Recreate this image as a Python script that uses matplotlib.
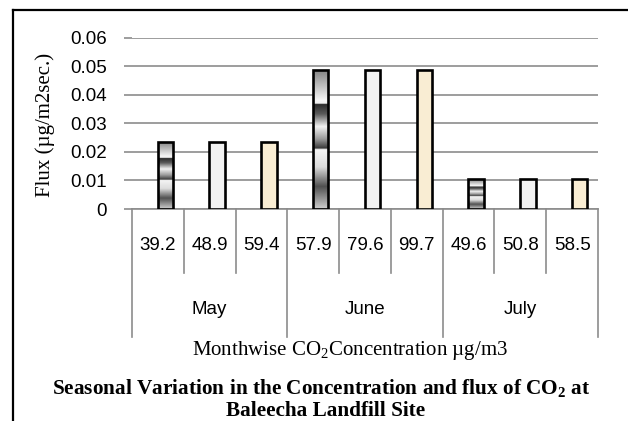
import numpy as np
import matplotlib
matplotlib.use("Agg")
import matplotlib.pyplot as plt
from matplotlib.lines import Line2D
from matplotlib.colors import LinearSegmentedColormap
import matplotlib.transforms as mtrans

plt.rcParams['mathtext.fontset'] = 'custom'
plt.rcParams['mathtext.rm'] = 'Liberation Serif'
plt.rcParams['mathtext.bf'] = 'Liberation Serif:bold'

# data
months = ["May", "June", "July"]
concentrations = ["39.2", "48.9", "59.4", "57.9", "79.6", "99.7", "49.6", "50.8", "58.5"]
flux = [0.0236, 0.0236, 0.0236, 0.0488, 0.0488, 0.0488, 0.0104, 0.0104, 0.0104]

W, H = 628, 421
fig = plt.figure(figsize=(W / 100, H / 100), dpi=100)

def px(x, y):
    return x / W, 1 - y / H

ax = fig.add_axes([132 / W, 1 - 209 / H, 466 / W, 171.3 / H])

x = np.arange(len(flux))
offset, width = 0.145, 0.3
bars = ax.bar(x + offset, flux, width=width, color='#f2f2f2', edgecolor='black',
              linewidth=1.9, zorder=3)

# chrome-like gradient for first bar of each month, plain for the others
chrome = LinearSegmentedColormap.from_list("chrome", [
    (0.0, '#808080'), (0.22, '#f5f5f5'), (0.245, '#f0f0f0'), (0.25, '#2a2a2a'),
    (0.32, '#5a5a5a'), (0.41, '#f2f2f2'), (0.5, '#9a9a9a'), (0.565, '#3a3a3a'),
    (0.575, '#f5f5f5'), (0.7, '#dcdcdc'), (0.84, '#505050'), (1.0, '#cfcfcf')])
grad = np.linspace(0, 1, 256).reshape(-1, 1)
for i, b in enumerate(bars):
    if i % 3 == 0:
        b.set_facecolor('none')
        im = ax.imshow(grad, cmap=chrome, aspect='auto', zorder=2.5,
                       extent=(b.get_x(), b.get_x() + b.get_width(), 0, b.get_height()),
                       origin='upper')
        im.set_clip_path(b)
    elif i % 3 == 2:
        b.set_facecolor('#f9edd3')

ax.set_xlim(-0.5, len(flux) - 0.5)
ax.set_ylim(0, 0.06)
ax.set_yticks(np.arange(0, 0.061, 0.01))
ax.set_yticklabels(["0"] + ["%.2f" % v for v in np.arange(0.01, 0.061, 0.01)])
ax.yaxis.grid(True, color='#8c8c8c', linewidth=1.2, zorder=0)
ax.set_axisbelow(True)
for s in ['top', 'right', 'left']:
    ax.spines[s].set_visible(False)
ax.spines['bottom'].set_color('#8c8c8c')
ax.spines['bottom'].set_linewidth(1.2)
ax.tick_params(axis='y', length=6, width=1.2, color='#8c8c8c', pad=12,
               labelsize=13.5)
for t in ax.get_yticklabels():
    t.set_fontfamily('Liberation Sans')
ax.set_xticks([])

# multi-level category axis drawn by hand
tr = mtrans.blended_transform_factory(ax.transData, fig.transFigure)
for k in range(len(flux) + 1):
    xs = k - 0.5
    yend = 337 if k % 3 == 0 else 273
    fig.add_artist(Line2D([xs, xs], [1 - 209 / H, 1 - yend / H], transform=tr,
                          color='#8c8c8c', linewidth=1.2))
for i, lab in enumerate(concentrations):
    fig.text(i, 1 - 245 / H, lab, transform=tr, ha='center', va='center',
             fontsize=13.5, family='Liberation Sans')
for j, m in enumerate(months):
    fig.text(3 * j + 1, 1 - 310 / H, m, transform=tr, ha='center', va='center',
             fontsize=13.5, family='Liberation Sans')

fig.text(*px(45, 125), "Flux (µg/m2sec.)", rotation=90, ha='center', va='center',
         fontsize=15, family='Liberation Serif')
fig.text(*px(350, 350), "Monthwise CO$_2$Concentration µg/m3", ha='center',
         va='center', fontsize=15, family='Liberation Serif')
fig.text(*px(321, 389), r"Seasonal Variation in the Concentration and flux of CO$_\mathbf{2}$ at",
         ha='center', va='center', fontsize=15.3, family='Liberation Serif',
         fontweight='bold')
fig.text(*px(326, 411), "Baleecha Landfill Site", ha='center', va='center',
         fontsize=15.3, family='Liberation Serif', fontweight='bold')

# outer frame (top and left edges only are visible)
fig.add_artist(Line2D([12.5 / W, 1], [1 - 10 / H, 1 - 10 / H], transform=fig.transFigure,
                      color='black', linewidth=1.6))
fig.add_artist(Line2D([12.5 / W, 12.5 / W], [1 - 10 / H, 0], transform=fig.transFigure,
                      color='black', linewidth=1.6))

fig.savefig("out.png", dpi=100)
